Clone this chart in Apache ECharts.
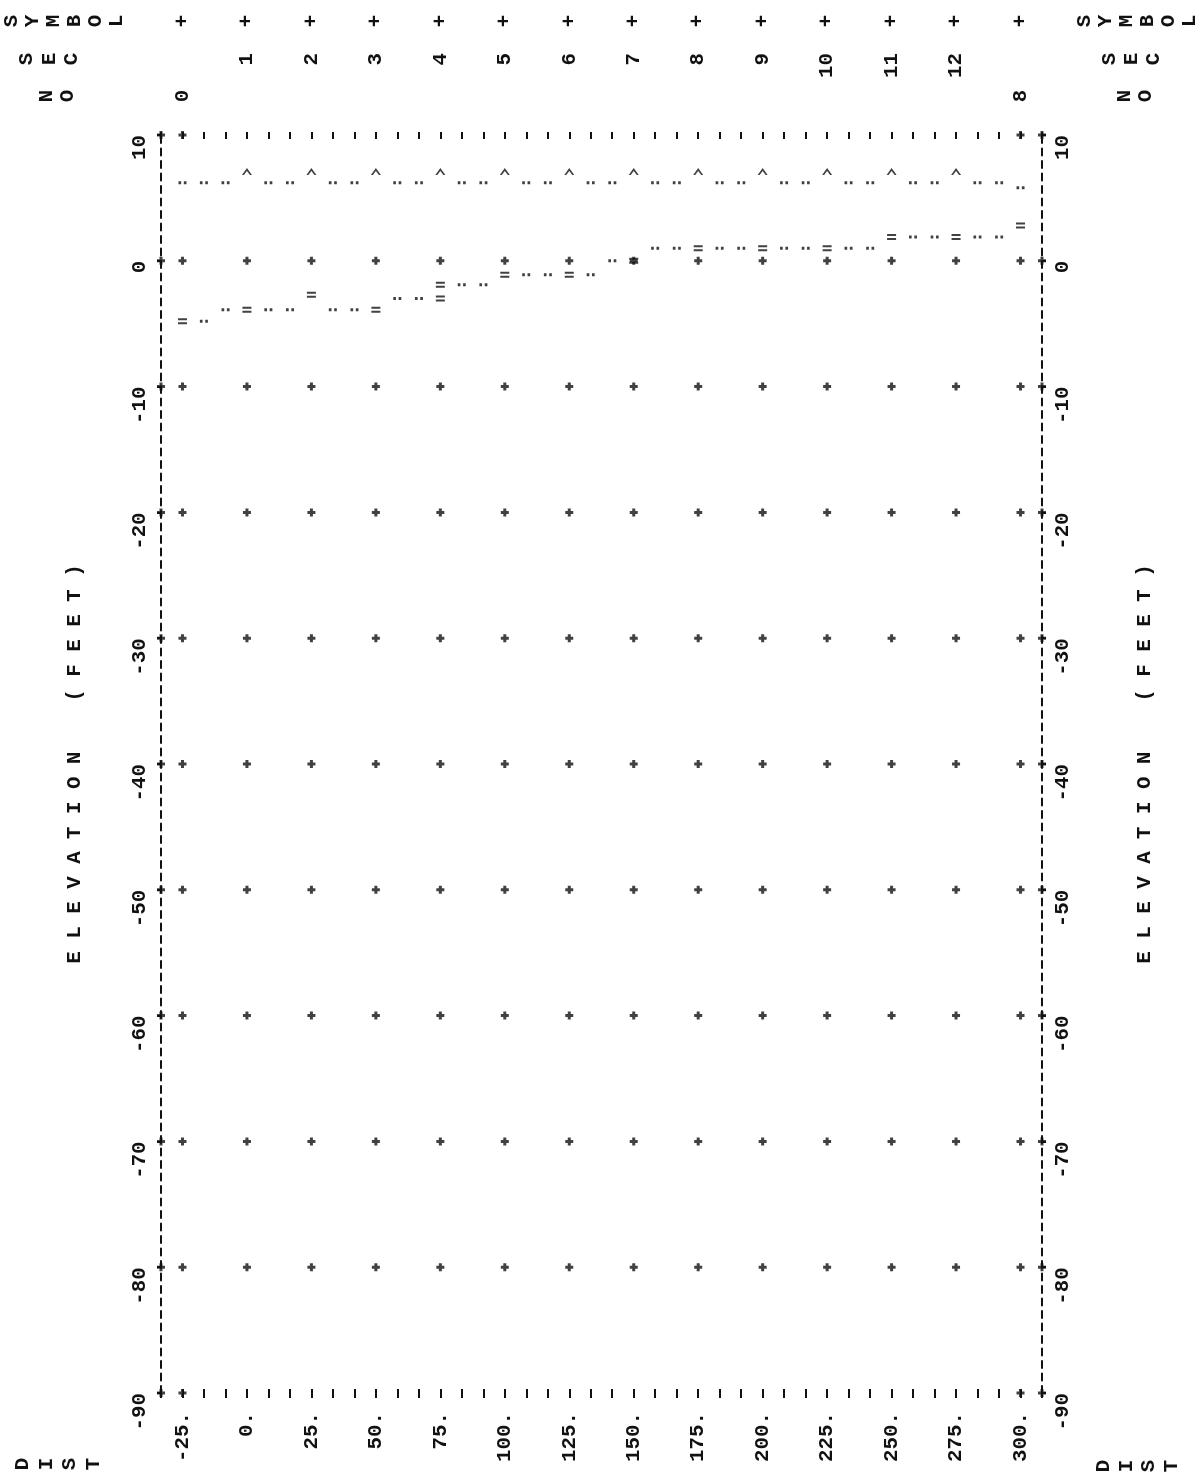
<!DOCTYPE html>
<html>
<head>
<meta charset="utf-8">
<script src="https://cdn.jsdelivr.net/npm/echarts@6/dist/echarts.min.js"></script>
<style>
  html, body { margin: 0; padding: 0; background: #fff; }
  #chart { width: 1199px; height: 1477px; }
</style>
</head>
<body>
<div id="chart"></div>
<script>
// line-printer profile plot, printed sideways

const distTicks = [-25, 0, 25, 50, 75, 100, 125, 150, 175, 200, 225, 250, 275, 300];
const elevTicks = [10, 0, -10, -20, -30, -40, -50, -60, -70, -80, -90];
const gridRows = [0, -10, -20, -30, -40, -50, -60, -70, -80];

// header rows above the plot
const headSymbols = ['+', '+', '+', '+', '+', '+', '+', '+', '+', '+', '+', '+', '+', '+'];
const sectionDist = [0, 25, 50, 75, 100, 125, 150, 175, 200, 225, 250, 275];
const sectionNos = ['1', '2', '3', '4', '5', '6', '7', '8', '9', '10', '11', '12'];
const endDist = [-25, 300];
const endNos = ['0', '8'];
const headLabels = ['SYMBOL', 'SEC', 'NO'];

// upper dotted line
const surfDist = [-25, -16.7, -8.3, 8.3, 16.7, 33.3, 41.7, 58.3, 66.7, 83.3, 91.7, 108.3, 116.7, 133.3,
  141.7, 158.3, 166.7, 183.3, 191.7, 208.3, 216.7, 233.3, 241.7, 258.3, 266.7, 283.3, 291.7, 300];
const surfElev = [6.2, 6.2, 6.2, 6.2, 6.2, 6.2, 6.2, 6.2, 6.2, 6.2, 6.2, 6.2, 6.2, 6.2,
  6.2, 6.2, 6.2, 6.2, 6.2, 6.2, 6.2, 6.2, 6.2, 6.2, 6.2, 6.2, 6.2, 5.8];

// ^ marks at each section
const caretDist = [0, 25, 50, 75, 100, 125, 150, 175, 200, 225, 250, 275];
const caretElev = [7.1, 7.1, 7.1, 7.1, 7.1, 7.1, 7.1, 7.1, 7.1, 7.1, 7.1, 7.1];

// lower stepped line
const bedDist = [-25, -16.7, -8.3, 0, 8.3, 16.7, 25, 33.3, 41.7, 50, 58.3, 66.7, 75, 75, 83.3, 91.7,
  100, 108.3, 116.7, 125, 133.3, 141.7, 150, 158.3, 166.7, 175, 183.3, 191.7, 200, 208.3, 216.7,
  225, 233.3, 241.7, 250, 258.3, 266.7, 275, 283.3, 291.7, 300];
const bedElev = [-4.8, -4.8, -3.9, -3.9, -3.9, -3.9, -2.7, -3.9, -3.9, -3.9, -3.0, -3.0, -3.0, -1.9, -1.9, -1.9,
  -1.1, -1.1, -1.1, -1.1, -1.1, 0.0, 0.0, 1.0, 1.0, 1.0, 1.0, 1.0, 1.0, 1.0, 1.0,
  1.0, 1.0, 1.0, 1.9, 1.9, 1.9, 1.9, 1.9, 1.9, 2.8];

const INK = '#111';
const FONT = 'Liberation Mono';
const FSIZE = 20.8;
const FWEIGHT = 'bold';
const STEP = 25 / 3;               // one printer line
const xMin = -25 - STEP;
const xMax = 300 + STEP;

const PLUS = 'path://M2.5,0H5.5V2.5H8V5.5H5.5V8H2.5V5.5H0V2.5H2.5Z';
const DOTS = 'path://M0,0H2.5V2.5H0ZM5,0H7.5V2.5H5Z';
const CARET = 'path://M0,7L5,0L10,7L8,7L5,3L2,7Z';
const BARS = 'path://M0,0H9V2H0ZM0,4H9V6H0Z';

const isSection = (d) => Math.abs(d / 25 - Math.round(d / 25)) < 0.01;

const gridPts = [];
distTicks.forEach((d) => gridRows.forEach((e) => gridPts.push([d, e])));
elevTicks.forEach((e) => { gridPts.push([xMin, e]); gridPts.push([xMax, e]); });
endDist.forEach((d) => { gridPts.push([d, 10]); gridPts.push([d, -90]); });

const textStyle = { fontFamily: FONT, fontSize: FSIZE, fontWeight: FWEIGHT, color: INK };

const xLabel = (v) => {
  const r = Math.round(v * 3) / 3;
  if (r < -25.01 || r > 300.01 || !isSection(r)) return '';
  return Math.round(r) + '.';
};

const yAxisBase = (pos, gap) => ({
  type: 'value', position: pos, min: -90, max: 10, interval: 10,
  axisLine: { show: true, onZero: false, lineStyle: { color: INK, width: 2, type: [7, 5.5] } },
  axisTick: { show: true, length: 4, lineStyle: { color: INK, width: 2 } },
  splitLine: { show: false },
  axisLabel: Object.assign({ rotate: 90, align: 'right', verticalAlign: 'middle', margin: 21 }, textStyle),
  name: 'E L E V A T I O N    ( F E E T )',
  nameLocation: 'middle', nameRotate: 90, nameGap: gap,
  nameTextStyle: Object.assign({ align: 'center', verticalAlign: 'middle' }, textStyle)
});

const option = {
  animation: false,
  backgroundColor: '#fff',
  grid: { left: 161, right: 157, top: 135, bottom: 84, containLabel: false, outerBoundsMode: 'none' },
  xAxis: [
    {
      type: 'value', position: 'bottom', min: xMin, max: xMax, interval: STEP, offset: -4,
      axisLine: { show: false, onZero: false },
      axisTick: { show: true, length: 9, lineStyle: { color: INK, width: 2 } },
      splitLine: { show: false },
      axisLabel: Object.assign({ rotate: 90, margin: 23, formatter: xLabel,
        showMinLabel: true, showMaxLabel: true }, textStyle)
    },
    {
      type: 'value', position: 'top', min: xMin, max: xMax, interval: STEP, offset: -4,
      axisLine: { show: false, onZero: false },
      axisTick: { show: true, length: 7, lineStyle: { color: INK, width: 2 } },
      splitLine: { show: false },
      axisLabel: { show: false }
    }
  ],
  yAxis: [yAxisBase('left', 86), yAxisBase('right', 103)],
  series: [
    {
      type: 'scatter', name: 'grid', data: gridPts, symbol: PLUS, symbolSize: 8,
      itemStyle: { color: INK }, silent: true, clip: false
    },
    {
      type: 'scatter', name: 'upper', data: surfDist.map((d, i) => [d, surfElev[i]]),
      symbol: DOTS, symbolSize: [8, 3], itemStyle: { color: INK }, silent: true
    },
    {
      type: 'scatter', name: 'caret', data: caretDist.map((d, i) => [d, caretElev[i]]),
      symbol: CARET, symbolSize: [10, 7], itemStyle: { color: INK }, silent: true
    },
    {
      type: 'scatter', name: 'lower', data: bedDist.map((d, i) => [d, bedElev[i]]),
      symbol: (v) => (isSection(v[0]) ? BARS : DOTS),
      symbolSize: (v) => (isSection(v[0]) ? [9, 6] : [8, 3]),
      itemStyle: { color: INK }, silent: true
    }
  ]
};

const chart = echarts.init(document.getElementById('chart'), null, { renderer: 'canvas' });
chart.setOption(option);

// rotated printer characters outside the plot
const rot = (str, x, y, align) => ({
  type: 'text', x: x, y: y, rotation: Math.PI / 2, silent: true,
  style: { text: str, fontFamily: FONT, fontSize: FSIZE, fontWeight: FWEIGHT, fill: INK,
    align: align || 'center', verticalAlign: 'middle' }
});
const spelled = (str, x0, y, step) => str.split('').map((ch, i) => rot(ch, x0 + i * step, y));
const px = (d) => chart.convertToPixel({ xAxisIndex: 0 }, d);

const graphics = [];
headSymbols.forEach((s, i) => graphics.push(rot(s, px(distTicks[i]), 21)));
sectionNos.forEach((s, i) => graphics.push(rot(s, px(sectionDist[i]), 53, 'right')));
endNos.forEach((s, i) => graphics.push(rot(s, px(endDist[i]), 96)));
graphics.push(...spelled(headLabels[0], 12, 21, 21));
graphics.push(...spelled(headLabels[1], 27, 59, 22.5));
graphics.push(...spelled(headLabels[2], 47, 96, 21));
graphics.push(...spelled(headLabels[0], 1085, 21, 21));
graphics.push(...spelled(headLabels[1], 1110, 59, 22));
graphics.push(...spelled(headLabels[2], 1125, 96, 21));
graphics.push(...spelled('DIST', 23, 1464, 23.5));
graphics.push(...spelled('DIST', 1104, 1466, 22.5));

chart.setOption({ graphic: graphics });
</script>
</body>
</html>
